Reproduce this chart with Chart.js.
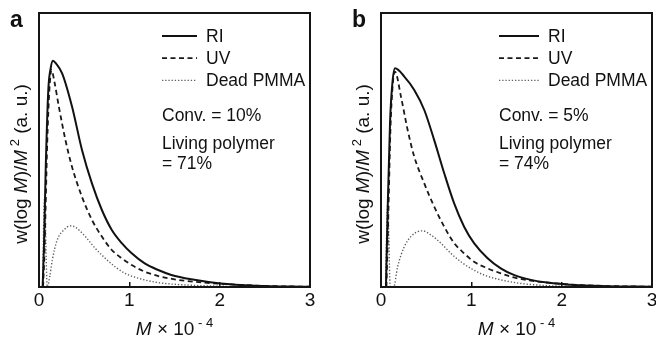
<!DOCTYPE html>
<html>
<head>
<meta charset="utf-8">
<script src="https://cdn.jsdelivr.net/npm/chart.js@4.4.1/dist/chart.umd.min.js"></script>
<style>
  html, body { margin: 0; padding: 0; background: #fff; overflow: hidden; width: 656px; height: 340px; }
  .panel { position: absolute; top: 0; width: 330px; height: 340px; }
  #wrapA { left: 0; }
  #wrapB { left: 342px; }
</style>
</head>
<body>
<div class="panel" id="wrapA"><canvas id="chartA" width="330" height="340"></canvas></div>
<div class="panel" id="wrapB"><canvas id="chartB" width="330" height="340"></canvas></div>
<script>
// x axis ticks (M x 10^-4)
const xTicks = [0, 1, 2, 3];
const seriesLabels = ['RI', 'UV', 'Dead PMMA'];

// panel a, Conv. = 10%
const riM_a   = [0.04, 0.055, 0.073, 0.103, 0.13, 0.154, 0.19, 0.256, 0.366, 0.476, 0.586, 0.696, 0.806, 0.916, 1.026, 1.17, 1.32, 1.465, 1.685, 2.01, 2.4, 3.0];
const riVal_a = [0, 0.15, 0.415, 0.719, 0.80, 0.826, 0.815, 0.78, 0.658, 0.5, 0.378, 0.281, 0.208, 0.16, 0.123, 0.086, 0.062, 0.044, 0.028, 0.013, 0.005, 0.001];
const uvM_a   = [0.045, 0.06, 0.092, 0.115, 0.139, 0.17, 0.22, 0.293, 0.366, 0.476, 0.586, 0.696, 0.806, 0.916, 1.026, 1.17, 1.32, 1.54, 1.83, 2.2, 2.6, 3.0];
const uvVal_a = [0, 0.12, 0.536, 0.72, 0.792, 0.75, 0.658, 0.536, 0.438, 0.329, 0.245, 0.184, 0.135, 0.105, 0.08, 0.056, 0.04, 0.026, 0.016, 0.008, 0.003, 0.001];
const deadM_a   = [0.04, 0.06, 0.092, 0.12, 0.147, 0.2, 0.275, 0.348, 0.403, 0.513, 0.623, 0.733, 0.842, 0.952, 1.1, 1.32, 1.65, 2.0, 2.5, 3.0];
const deadVal_a = [0, 0.32, 0, 0.04, 0.098, 0.17, 0.208, 0.223, 0.218, 0.184, 0.141, 0.105, 0.074, 0.05, 0.032, 0.016, 0.007, 0.003, 0.001, 0];

// panel b, Conv. = 5%
const riM_b   = [0.055, 0.075, 0.1, 0.125, 0.155, 0.258, 0.368, 0.479, 0.589, 0.70, 0.81, 0.92, 1.03, 1.18, 1.326, 1.47, 1.66, 1.84, 2.14, 2.5, 3.0];
const riVal_b = [0, 0.3, 0.6, 0.74, 0.798, 0.768, 0.719, 0.646, 0.536, 0.415, 0.305, 0.22, 0.16, 0.105, 0.068, 0.044, 0.026, 0.016, 0.007, 0.003, 0.001];
const uvM_b   = [0.06, 0.08, 0.105, 0.13, 0.155, 0.221, 0.295, 0.368, 0.479, 0.589, 0.70, 0.81, 0.92, 1.03, 1.18, 1.326, 1.47, 1.66, 1.84, 2.2, 2.6, 3.0];
const uvVal_b = [0, 0.25, 0.58, 0.74, 0.786, 0.695, 0.573, 0.476, 0.378, 0.293, 0.22, 0.16, 0.123, 0.092, 0.068, 0.05, 0.035, 0.023, 0.016, 0.007, 0.003, 0.001];
const deadM_b   = [0.05, 0.074, 0.103, 0.14, 0.184, 0.258, 0.331, 0.405, 0.46, 0.552, 0.663, 0.773, 0.884, 0.994, 1.14, 1.326, 1.55, 1.84, 2.2, 2.6, 3.0];
const deadVal_b = [0, 0.3, 0, 0, 0.074, 0.147, 0.184, 0.202, 0.205, 0.19, 0.16, 0.123, 0.092, 0.068, 0.044, 0.026, 0.013, 0.005, 0.002, 0.001, 0];

const panelLetters = ['a', 'b'];
const convTexts = ['Conv. = 10%', 'Conv. = 5%'];
const livingTexts = ['= 71%', '= 74%'];

const FONT = "'Liberation Sans', Arial, Helvetica, sans-serif";

function toXY(ms, vs) {
  return ms.map((m, i) => ({ x: m, y: vs[i] }));
}

// draw text pieces with italic / superscript parts, centred on x
function richText(ctx, parts, cx, y, size) {
  const fontOf = p => p[1] === 'i' ? `italic ${size}px ${FONT}` :
                      p[1] === 's' ? `${Math.round(size * 0.66)}px ${FONT}` : `${size}px ${FONT}`;
  let total = 0;
  parts.forEach(p => { ctx.font = fontOf(p); total += ctx.measureText(p[0]).width; });
  let x = cx - total / 2;
  ctx.textAlign = 'left';
  parts.forEach(p => {
    ctx.font = fontOf(p);
    ctx.fillText(p[0], x, p[1] === 's' ? y - size * 0.42 : y);
    x += ctx.measureText(p[0]).width;
  });
}

const panelDecor = {
  id: 'panelDecor',
  afterDraw(chart, args, o) {
    const { ctx, chartArea: ca } = chart;
    ctx.save();
    ctx.setLineDash([]);
    ctx.strokeStyle = '#151515';
    ctx.lineWidth = 2;
    ctx.strokeRect(ca.left, ca.top, ca.right - ca.left, ca.bottom - ca.top);

    ctx.fillStyle = '#111';
    ctx.textBaseline = 'alphabetic';
    ctx.textAlign = 'left';
    ctx.font = `bold 23px ${FONT}`;
    ctx.fillText(o.letter, 10, 27);

    // legend
    ctx.font = `17.5px ${FONT}`;
    chart.data.datasets.forEach((ds, i) => {
      const base = 42 + i * 22.2;
      ctx.strokeStyle = ds.borderColor;
      ctx.lineWidth = ds.borderWidth;
      ctx.setLineDash(ds.borderDash || []);
      ctx.beginPath();
      ctx.moveTo(o.legendX, base - 6);
      ctx.lineTo(197, base - 6);
      ctx.stroke();
      ctx.setLineDash([]);
      ctx.fillStyle = '#111';
      ctx.fillText(ds.label, 206, base);
    });
    ctx.fillText(o.conv, o.legendX, 120.5);
    ctx.fillText('Living polymer', o.legendX, 149);
    ctx.fillText(o.living, o.legendX, 168.5);

    // axis titles
    richText(ctx, [['M', 'i'], [' \u00d7 10', 'n'], [' - 4', 's']], (ca.left + ca.right) / 2, 335, 19);
    ctx.save();
    ctx.translate(27, (ca.top + ca.bottom) / 2 + 14);
    ctx.rotate(-Math.PI / 2);
    richText(ctx, [['w(log ', 'n'], ['M', 'i'], [')/', 'n'], ['M', 'i'], [' 2', 's'], [' (a. u.)', 'n']], 0, 0, 19);
    ctx.restore();
    ctx.restore();
  }
};

function makePanel(id, idx, ri, uv, dead, legendX) {
  const common = { pointRadius: 0, fill: false, cubicInterpolationMode: 'monotone' };
  new Chart(document.getElementById(id), {
    type: 'line',
    data: {
      datasets: [
        { ...common, label: seriesLabels[0], data: ri, borderColor: '#111', borderWidth: 2 },
        { ...common, label: seriesLabels[1], data: uv, borderColor: '#1a1a1a', borderWidth: 1.8, borderDash: [5, 3.5] },
        { ...common, label: seriesLabels[2], data: dead, borderColor: '#5e5e5e', borderWidth: 1.4, borderDash: [1.3, 1.9] }
      ]
    },
    options: {
      responsive: false,
      animation: false,
      layout: { padding: { top: 13, right: 20, left: 0, bottom: 0 } },
      plugins: {
        legend: { display: false },
        tooltip: { enabled: false },
        panelDecor: { letter: panelLetters[idx], conv: convTexts[idx], living: livingTexts[idx], legendX: legendX }
      },
      scales: {
        x: {
          type: 'linear', min: 0, max: 3,
          afterBuildTicks: s => { s.ticks = xTicks.map(v => ({ value: v })); },
          ticks: { color: '#111', font: { family: FONT, size: 19 }, padding: 7, maxRotation: 0, autoSkip: false },
          grid: { display: true, drawOnChartArea: false, drawTicks: true, tickLength: -5, color: '#111', lineWidth: 1.5 },
          border: { display: false },
          afterFit: s => { s.height = 53; }
        },
        y: {
          min: 0, max: 1,
          ticks: { display: false },
          grid: { display: false },
          border: { display: false },
          afterFit: s => { s.width = 39; }
        }
      }
    },
    plugins: [panelDecor]
  });
}

makePanel('chartA', 0, toXY(riM_a, riVal_a), toXY(uvM_a, uvVal_a), toXY(deadM_a, deadVal_a), 162);
makePanel('chartB', 1, toXY(riM_b, riVal_b), toXY(uvM_b, uvVal_b), toXY(deadM_b, deadVal_b), 157);
</script>
</body>
</html>
